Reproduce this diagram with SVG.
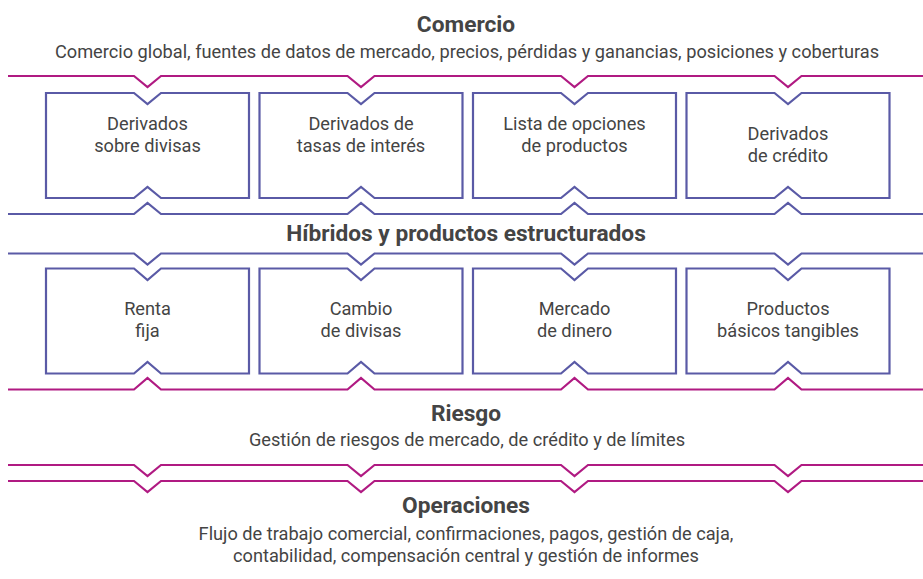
<svg xmlns="http://www.w3.org/2000/svg" width="923" height="579" viewBox="0 0 923 579">
<style>
.m{fill:none;stroke:#B01A82;stroke-width:2.2;stroke-linejoin:miter}
.b{fill:none;stroke:#5A5AA6;stroke-width:2.2;stroke-linejoin:miter}
.box{fill:#fff;stroke:#5A5AA6;stroke-width:2.2}
text{font-family:Roboto,"Liberation Sans",sans-serif;fill:#444;text-anchor:middle}
.t{font-size:22.7px;font-weight:bold}
.s{font-size:18.2px}
.n{font-size:18.2px}
</style>
<rect width="923" height="579" fill="#fff"/>
<g id="connectors">
<path class="m" d="M8 76H134L147.5 87L161 76H347.5L361 87L374.5 76H561L574.5 87L588 76H774.5L788 87L801.5 76H923"/>
<path class="b" d="M8 214H134L147.5 203L161 214H347.5L361 203L374.5 214H561L574.5 203L588 214H774.5L788 203L801.5 214H923"/>
<path class="b" d="M8 253.5H134L147.5 264.5L161 253.5H347.5L361 264.5L374.5 253.5H561L574.5 264.5L588 253.5H774.5L788 264.5L801.5 253.5H923"/>
<path class="m" d="M8 389.5H134L147.5 378L161 389.5H347.5L361 378L374.5 389.5H561L574.5 378L588 389.5H774.5L788 378L801.5 389.5H923"/>
<path class="m" d="M8 465H134L147.5 476L161 465H347.5L361 476L374.5 465H561L574.5 476L588 465H774.5L788 476L801.5 465H923"/>
<path class="m" d="M8 481H134L147.5 492L161 481H347.5L361 492L374.5 481H561L574.5 492L588 481H774.5L788 492L801.5 481H923"/>
</g>
<g id="comercio">
<text class="t" x="466" y="32">Comercio</text>
<text class="s" x="467" y="58">Comercio global, fuentes de datos de mercado, precios, pérdidas y ganancias, posiciones y coberturas</text>
</g>
<g id="derivados-divisas">
<path class="box" d="M46 93H134L147.5 104L161 93H249V198H161L147.5 187L134 198H46Z"/>
<text class="n" x="147.5" y="130">Derivados</text>
<text class="n" x="147.5" y="152">sobre divisas</text>
</g>
<g id="derivados-tasas">
<path class="box" d="M259.5 93H347.5L361 104L374.5 93H462.5V198H374.5L361 187L347.5 198H259.5Z"/>
<text class="n" x="361" y="130">Derivados de</text>
<text class="n" x="361" y="152">tasas de interés</text>
</g>
<g id="lista-opciones">
<path class="box" d="M473 93H561L574.5 104L588 93H676V198H588L574.5 187L561 198H473Z"/>
<text class="n" x="574.5" y="130">Lista de opciones</text>
<text class="n" x="574.5" y="152">de productos</text>
</g>
<g id="derivados-credito">
<path class="box" d="M686.5 93H774.5L788 104L801.5 93H889.5V198H801.5L788 187L774.5 198H686.5Z"/>
<text class="n" x="788" y="140">Derivados</text>
<text class="n" x="788" y="162">de crédito</text>
</g>
<g id="hibridos">
<text class="t" x="466" y="241">Híbridos y productos estructurados</text>
</g>
<g id="renta-fija">
<path class="box" d="M46 268.5H134L147.5 280L161 268.5H249V373.5H161L147.5 362L134 373.5H46Z"/>
<text class="n" x="147.5" y="315">Renta</text>
<text class="n" x="147.5" y="337">fija</text>
</g>
<g id="cambio-divisas">
<path class="box" d="M259.5 268.5H347.5L361 280L374.5 268.5H462.5V373.5H374.5L361 362L347.5 373.5H259.5Z"/>
<text class="n" x="361" y="315">Cambio</text>
<text class="n" x="361" y="337">de divisas</text>
</g>
<g id="mercado-dinero">
<path class="box" d="M473 268.5H561L574.5 280L588 268.5H676V373.5H588L574.5 362L561 373.5H473Z"/>
<text class="n" x="574.5" y="315">Mercado</text>
<text class="n" x="574.5" y="337">de dinero</text>
</g>
<g id="productos-basicos">
<path class="box" d="M686.5 268.5H774.5L788 280L801.5 268.5H889.5V373.5H801.5L788 362L774.5 373.5H686.5Z"/>
<text class="n" x="788" y="315">Productos</text>
<text class="n" x="788" y="337">básicos tangibles</text>
</g>
<g id="riesgo">
<text class="t" x="466" y="421">Riesgo</text>
<text class="s" x="467" y="446">Gestión de riesgos de mercado, de crédito y de límites</text>
</g>
<g id="operaciones">
<text class="t" x="466" y="513">Operaciones</text>
<text class="s" x="466" y="540">Flujo de trabajo comercial, confirmaciones, pagos, gestión de caja,</text>
<text class="s" x="466" y="562">contabilidad, compensación central y gestión de informes</text>
</g>
</svg>
